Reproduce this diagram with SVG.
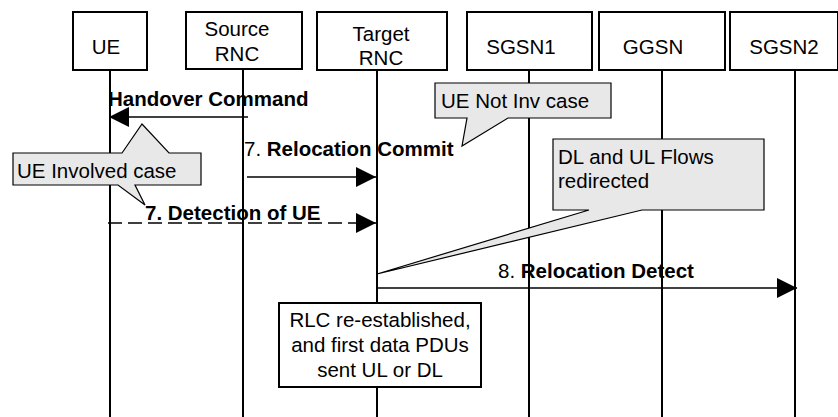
<svg xmlns="http://www.w3.org/2000/svg" width="838" height="417" viewBox="0 0 838 417">
<style>
text{font-family:"Liberation Sans",Arial,sans-serif;font-size:20.5px;fill:#000}
.b{font-weight:bold}
.box{fill:#fff;stroke:#000;stroke-width:2}
.life{stroke:#000;stroke-width:2}
.msg{stroke:#000;stroke-width:1.5;fill:none}
.call{fill:#e8e8e8;stroke:#000;stroke-width:1.2;stroke-linejoin:miter}
</style>
<defs>
<marker id="ah" markerUnits="userSpaceOnUse" markerWidth="20" markerHeight="20" refX="20" refY="10" orient="auto">
<path d="M0,0 L20,10 L0,20 Z" fill="#000"/>
</marker>
</defs>
<g id="lifelines">
<line class="life" x1="110" y1="70" x2="110" y2="417"/>
<line class="life" x1="243" y1="70" x2="243" y2="417"/>
<line class="life" x1="377" y1="70" x2="377" y2="417"/>
<line class="life" x1="529" y1="70" x2="529" y2="417"/>
<line class="life" x1="662" y1="70" x2="662" y2="417"/>
<line class="life" x1="795" y1="70" x2="795" y2="417"/>
</g>
<g id="ue"><rect class="box" x="73" y="12" width="74" height="58"/><text x="106" y="54" text-anchor="middle">UE</text></g>
<g id="source-rnc"><rect class="box" x="186" y="12" width="116" height="57"/><text x="237" y="36" text-anchor="middle">Source</text><text x="237" y="61" text-anchor="middle">RNC</text></g>
<g id="target-rnc"><rect class="box" x="317" y="12" width="130" height="58"/><text x="381" y="41" text-anchor="middle">Target</text><text x="381" y="65" text-anchor="middle">RNC</text></g>
<g id="sgsn1"><rect class="box" x="467" y="12" width="125" height="58"/><text x="521" y="54" text-anchor="middle">SGSN1</text></g>
<g id="ggsn"><rect class="box" x="599" y="12" width="126" height="58"/><text x="653" y="54" text-anchor="middle">GGSN</text></g>
<g id="sgsn2"><rect class="box" x="730" y="12" width="108" height="58"/><text x="784" y="54" text-anchor="middle">SGSN2</text></g>
<g id="note-ue-involved"><path class="call" d="M13,153 H122 L142,124 L169,153 H201 V185 H135 L145,205 L118,185 H13 Z"/><text x="17" y="178">UE Involved case</text></g>
<g id="note-ue-not-inv"><path class="call" d="M435,83 H611 V118 H508 L462,146 L467,118 H435 Z"/><text x="441" y="108">UE Not Inv case</text></g>
<g id="note-flows"><path class="call" d="M553,139 H764 V210 H642 L377,274 L589,210 H553 Z"/><text x="558" y="164">DL and UL Flows</text><text x="558" y="188">redirected</text></g>
<g id="connectors">
<line class="msg" x1="248" y1="117" x2="109" y2="117" marker-end="url(#ah)"/>
<text x="108" y="106" class="b">Handover Command</text>
<line class="msg" x1="247" y1="177" x2="376" y2="177" marker-end="url(#ah)"/>
<text x="244" y="156">7. <tspan class="b">Relocation Commit</tspan></text>
<line class="msg" x1="108" y1="223" x2="376" y2="223" stroke-dasharray="14 6" marker-end="url(#ah)"/>
<text x="145" y="220" class="b">7. Detection of UE</text>
<line class="msg" x1="377" y1="288" x2="797" y2="288" marker-end="url(#ah)"/>
<text x="498" y="278">8. <tspan class="b">Relocation Detect</tspan></text>
</g>
<g id="rlc-note"><rect class="box" x="279" y="303" width="202" height="84"/><text x="380" y="327" text-anchor="middle">RLC re-established,</text><text x="380" y="352" text-anchor="middle">and first data PDUs</text><text x="380" y="377" text-anchor="middle">sent UL or DL</text></g>
</svg>
